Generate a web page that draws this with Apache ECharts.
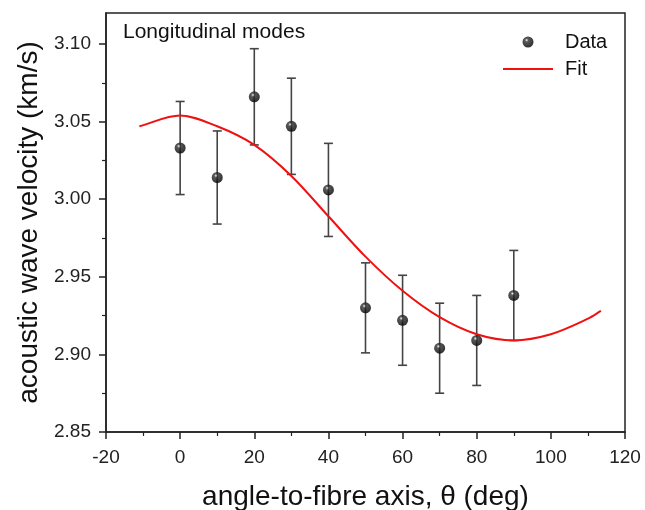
<!DOCTYPE html>
<html>
<head>
<meta charset="utf-8">
<script src="https://cdn.jsdelivr.net/npm/echarts@6/dist/echarts.min.js"></script>
<style>
html,body{margin:0;padding:0;background:#fff;}
#chart{width:645px;height:510px;}
</style>
</head>
<body>
<div id="chart"></div>
<script>
// Measured data (angle in deg, velocity in km/s)
var angles = [0, 10, 20, 30, 40, 50, 60, 70, 80, 90];
var velocity = [3.033, 3.014, 3.066, 3.047, 3.006, 2.930, 2.922, 2.904, 2.909, 2.938];
var errors = [0.030, 0.030, 0.031, 0.031, 0.030, 0.029, 0.029, 0.029, 0.029, 0.029];

// Fit curve
var fitAngles = [-11, 0, 10, 20, 30, 40, 50, 60, 70, 80, 90, 100, 110, 113.5];
var fitValues = [3.047, 3.054, 3.047, 3.035, 3.015, 2.989, 2.963, 2.941, 2.924, 2.913, 2.909, 2.913, 2.923, 2.928];

// Axis ticks
var yTicks = [2.85, 2.90, 2.95, 3.00, 3.05, 3.10];

var FONT = 'Liberation Sans, Arial, sans-serif';
var RED = '#f01010';

var chart = echarts.init(document.getElementById('chart'), null, {renderer: 'canvas'});

var dataPts = angles.map(function (a, i) { return [a, velocity[i]]; });
var errPts = angles.map(function (a, i) { return [a, velocity[i] - errors[i], velocity[i] + errors[i]]; });
var fitPts = fitAngles.map(function (a, i) { return [a, fitValues[i]]; });

var sphere = {
  type: 'radial', x: 0.38, y: 0.33, r: 0.65,
  colorStops: [
    {offset: 0, color: '#f0f0f0'},
    {offset: 0.25, color: '#303030'},
    {offset: 1, color: '#000000'}
  ]
};

// Smooth cubic Hermite path through the fit points, in pixel space via api.coord
function fitRender(params, api) {
  if (params.dataIndex !== 0) return null;
  var P = fitPts.map(function (p) { return api.coord(p); });
  var n = P.length;
  var m = [];
  for (var i = 0; i < n; i++) {
    var a = P[Math.max(i - 1, 0)], b = P[Math.min(i + 1, n - 1)];
    m.push((b[1] - a[1]) / (b[0] - a[0]));
  }
  var d = 'M' + P[0][0] + ',' + P[0][1];
  for (var j = 0; j < n - 1; j++) {
    var h = P[j + 1][0] - P[j][0];
    d += ' C' + (P[j][0] + h / 3) + ',' + (P[j][1] + m[j] * h / 3) + ' ' +
         (P[j + 1][0] - h / 3) + ',' + (P[j + 1][1] - m[j + 1] * h / 3) + ' ' +
         P[j + 1][0] + ',' + P[j + 1][1];
  }
  return {
    type: 'path',
    shape: {pathData: d},
    style: {stroke: RED, lineWidth: 2, fill: null}
  };
}

var option = {
  backgroundColor: '#ffffff',
  animation: false,
  grid: {
    left: 106, right: 20, top: 13, bottom: 78,
    containLabel: false, outerBoundsMode: 'none',
    show: true, borderColor: '#222', borderWidth: 1.5, backgroundColor: 'transparent'
  },
  legend: {
    orient: 'vertical',
    left: 498, top: 27,
    itemWidth: 50, itemHeight: 11, itemGap: 7,
    textStyle: {fontFamily: FONT, fontSize: 20, color: '#111', lineHeight: 20, padding: [0, 0, 0, 7]},
    data: [
      {name: 'Data', icon: 'circle'},
      {name: 'Fit', icon: 'path://M0,0L100,0L100,4L0,4Z', itemStyle: {color: RED}}
    ]
  },
  xAxis: {
    type: 'value', min: -20, max: 120, interval: 20,
    name: 'angle-to-fibre axis, \u03B8 (deg)',
    nameLocation: 'middle', nameGap: 51,
    nameTextStyle: {fontFamily: FONT, fontSize: 28, color: '#111'},
    axisLine: {show: true, onZero: false, lineStyle: {color: '#222', width: 1.5}},
    axisTick: {show: true, inside: false, length: 7, lineStyle: {color: '#222', width: 1.5}},
    minorTick: {show: true, splitNumber: 2, length: 4, lineStyle: {color: '#222', width: 1.2}},
    axisLabel: {fontFamily: FONT, fontSize: 19, color: '#222', margin: 16},
    splitLine: {show: false}
  },
  yAxis: {
    type: 'value', min: 2.85, max: 3.12, interval: 0.05,
    name: 'acoustic wave velocity (km/s)',
    nameLocation: 'middle', nameGap: 63,
    nameTextStyle: {fontFamily: FONT, fontSize: 28, color: '#111'},
    axisLine: {show: true, onZero: false, lineStyle: {color: '#222', width: 1.5}},
    axisTick: {show: true, inside: false, length: 7, customValues: yTicks, lineStyle: {color: '#222', width: 1.5}},
    minorTick: {show: true, splitNumber: 2, length: 4, lineStyle: {color: '#222', width: 1.2}},
    axisLabel: {
      fontFamily: FONT, fontSize: 19, color: '#222', margin: 15,
      customValues: yTicks,
      formatter: function (v) { return v.toFixed(2); }
    },
    splitLine: {show: false}
  },
  graphic: [
    {
      type: 'text', left: 123, top: 22,
      style: {text: 'Longitudinal modes', fontFamily: FONT, fontSize: 21, fill: '#111'}
    }
  ],
  series: [
    {
      name: 'Errors',
      type: 'custom',
      data: errPts,
      z: 2,
      renderItem: function (params, api) {
        var x = api.value(0);
        var lo = api.coord([x, api.value(1)]);
        var hi = api.coord([x, api.value(2)]);
        var cap = 4.5;
        var st = {stroke: '#444', lineWidth: 1.6};
        return {
          type: 'group',
          children: [
            {type: 'line', shape: {x1: lo[0], y1: lo[1], x2: hi[0], y2: hi[1]}, style: st},
            {type: 'line', shape: {x1: lo[0] - cap, y1: lo[1], x2: lo[0] + cap, y2: lo[1]}, style: st},
            {type: 'line', shape: {x1: hi[0] - cap, y1: hi[1], x2: hi[0] + cap, y2: hi[1]}, style: st}
          ]
        };
      }
    },
    {
      name: 'Fit',
      type: 'custom',
      data: fitPts,
      z: 3,
      itemStyle: {color: RED},
      renderItem: fitRender
    },
    {
      name: 'Data',
      type: 'scatter',
      data: dataPts,
      symbol: 'circle',
      symbolSize: 11,
      z: 4,
      itemStyle: {color: sphere}
    }
  ]
};

chart.setOption(option);
</script>
</body>
</html>
